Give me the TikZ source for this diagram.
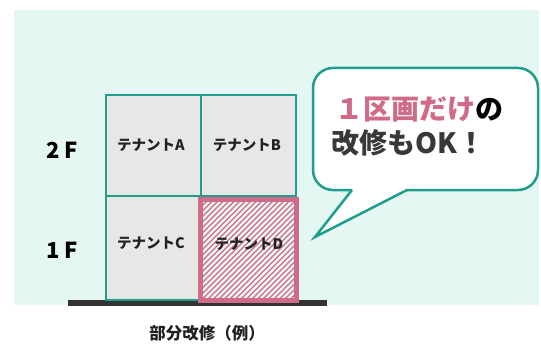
\documentclass[tikz,border=0pt]{standalone}
\usepackage{fontspec}
\setmainfont{Noto Sans CJK JP}
\definecolor{bgmint}{HTML}{E5F7F2}
\definecolor{tealc}{HTML}{1E9E8B}
\definecolor{pinkc}{HTML}{CF6B86}
\definecolor{grayfill}{HTML}{E7E8E6}
\definecolor{hatchbg}{HTML}{EAF7F4}
\definecolor{darktxt}{HTML}{222222}
\begin{document}
\begin{tikzpicture}[x=1pt,y=-1pt,
  tenant/.style={font=\bfseries\fontsize{14.5}{16}\selectfont, text=darktxt},
  floorlbl/.style={font=\bfseries\fontsize{22}{24}\selectfont, text=black},
  bubtxt/.style={font=\bfseries\fontsize{28}{30}\selectfont, anchor=west, inner sep=0pt},
  wall/.style={draw=tealc, line width=2.5pt}]
\useasboundingbox (0,0) rectangle (541,345);
\fill[bgmint] (14,10) rectangle (539,305);
% ground
\fill[black!80] (68,300) rectangle (327,306);
% building
\fill[grayfill] (106,95) rectangle (296,300);
\draw[wall] (106,95) rectangle (296,300);
\draw[wall] (201,95) -- (201,300);
\draw[wall] (106,196) -- (296,196);
% tenant D hatch
\begin{scope}
\clip (200,199) rectangle (297,301);
\fill[hatchbg] (200,199) rectangle (297,301);
\foreach \i in {-130,-124.5,...,110}
  \draw[pinkc, line width=1.3pt] (200+\i,305) -- ++(115,-115);
\end{scope}
\draw[pinkc, line width=5pt] (200.5,199.5) rectangle (296.5,300.5);
% labels
\node[tenant] (ta) at (151,145) {テナントA};
\node[tenant] (tb) at (247,145) {テナントB};
\node[tenant] (tc) at (151,243) {テナントC};
\node[tenant] (td) at (249,244) {テナントD};
\node[floorlbl] (f2) at (62,150) {2\hspace{4pt}F};
\node[floorlbl] (f1) at (62,250) {1\hspace{4pt}F};
\node[font=\bfseries\fontsize{16.5}{18}\selectfont, text=darktxt] (cap) at (207,333) {部分改修（例）};
% bubble
\filldraw[fill=white, draw=tealc, line width=2.5pt, rounded corners=20pt] (313,68) rectangle (538,190);
\fill[white] (354,186) -- (352,190) -- (315,237) -- (407,190) -- (404,186) -- cycle;
\draw[tealc, line width=2.5pt, line join=miter] (352,190) -- (315,237) -- (407,190);
\node[bubtxt] (b1) at (335,109)
  {\textcolor{pinkc}{１区画だけ}\textcolor{black}{の}};
\node[bubtxt, text=darktxt!90] (b2) at (331,143)
  {改修もOK！};
\end{tikzpicture}
\end{document}
